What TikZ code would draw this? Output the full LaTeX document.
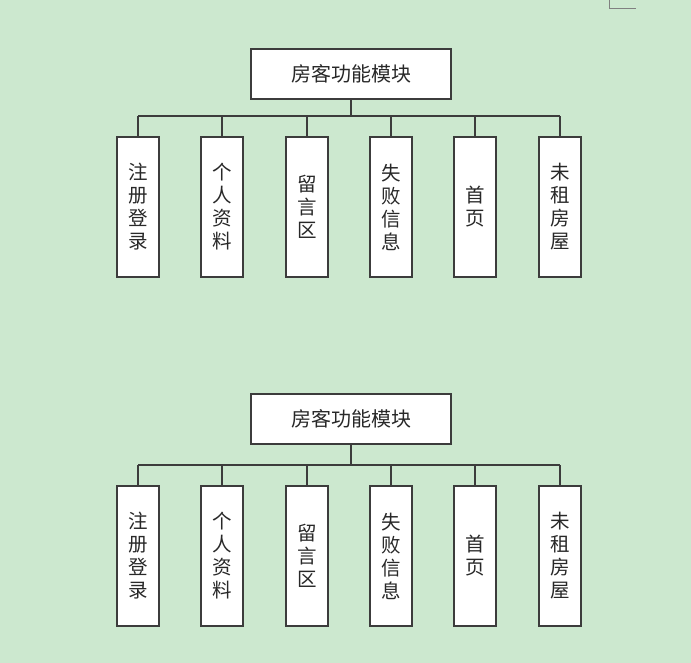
\documentclass[tikz,border=0pt]{standalone}
\usepackage{fontspec}
\newfontfamily\cjk{Noto Sans CJK SC}
\definecolor{bg}{RGB}{204,232,207}
\definecolor{ln}{RGB}{60,60,60}
\definecolor{tx}{RGB}{40,40,40}
\begin{document}
\begin{tikzpicture}[x=1pt,y=-1pt,
  rootbox/.style={draw=ln,line width=1.1pt,fill=white,minimum width=200pt,minimum height=50pt,inner sep=0pt,
    text=tx,font=\cjk\fontsize{20}{24}\selectfont},
  childbox/.style={draw=ln,line width=1.1pt,fill=white,minimum width=42pt,minimum height=140pt,inner sep=0pt,
    text=tx,align=center,font=\cjk\fontsize{19.5}{23}\selectfont},
  conn/.style={draw=ln,line width=1.1pt}]
\fill[bg] (0,0) rectangle (691,663);
\useasboundingbox (0,0) rectangle (691,663);
\draw[gray,line width=0.8pt] (609,0) -- (609,8) -- (636,8);
\foreach \t/\dr/\dy in {a/0/0,b/345/349}{
  \node[rootbox] (r\t) at (351,74+\dr) {房客功能模块};
  \coordinate (bus\t) at (351,116+\dy);
  \node[childbox] (c1\t) at (138,207+\dy) {注\\册\\登\\录};
  \node[childbox] (c2\t) at (222,207+\dy) {个\\人\\资\\料};
  \node[childbox] (c3\t) at (307,207+\dy) {留\\言\\区};
  \node[childbox] (c4\t) at (391,207+\dy) {失\\败\\信\\息};
  \node[childbox] (c5\t) at (475,207+\dy) {首\\页};
  \node[childbox] (c6\t) at (560,207+\dy) {未\\租\\房\\屋};
  \draw[conn] (r\t.south) -- (bus\t);
  \draw[conn] (c1\t.north |- bus\t) -- (c6\t.north |- bus\t);
  \foreach \i in {1,...,6}{
    \draw[conn] (c\i\t.north) -- (c\i\t.north |- bus\t);
  }
}
\end{tikzpicture}
\end{document}
